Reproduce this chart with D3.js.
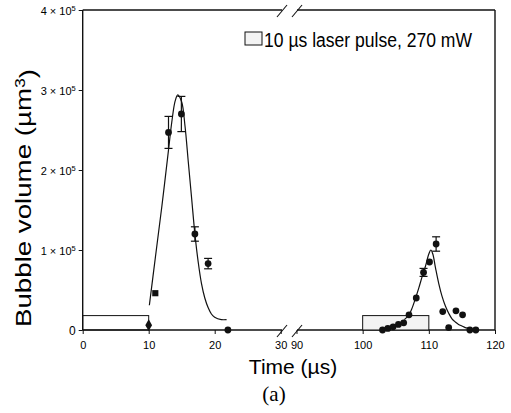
<!DOCTYPE html>
<html><head><meta charset="utf-8">
<script src="https://cdn.jsdelivr.net/npm/d3@7"></script>
<style>
html,body{margin:0;padding:0;background:#fff;}
svg{display:block;font-family:"Liberation Sans",Arial,sans-serif;}
</style></head>
<body><svg id="c" width="511" height="413"></svg>
<script>
// ---- data (volumes in µm³) ----
const leftX   = [10, 11, 13, 14.95, 17, 19, 22];
const leftY   = [0.06e5, 0.46e5, 2.47e5, 2.70e5, 1.20e5, 0.83e5, 0];
const leftErr = [0, 0, 0.20e5, 0.22e5, 0.09e5, 0.065e5, 0];
const leftShape = ["diamond", "square", "circle", "circle", "circle", "circle", "circle"];

const rightX   = [103.0, 103.8, 104.6, 105.4, 106.2, 107.0, 108.1, 109.2, 110.1, 111.1, 112.1, 113.0, 114.1, 115.1, 116.2, 117.1];
const rightY   = [0, 0.02e5, 0.04e5, 0.07e5, 0.09e5, 0.19e5, 0.40e5, 0.72e5, 0.85e5, 1.075e5, 0.23e5, 0.03e5, 0.24e5, 0.19e5, 0, 0];
const rightErr = [0, 0, 0, 0, 0, 0, 0, 0.05e5, 0, 0.09e5, 0, 0, 0, 0, 0, 0];

const fitLeftX = [10.1, 11, 12, 13, 13.5, 14, 14.4, 15, 15.5, 16, 16.5, 17, 17.5, 18, 18.5, 19, 19.5, 20, 21, 21.8];
const fitLeftY = [0.31e5, 0.9e5, 1.55e5, 2.25e5, 2.6e5, 2.86e5, 2.94e5, 2.85e5, 2.55e5, 2.1e5, 1.65e5, 1.2e5, 0.85e5, 0.58e5, 0.4e5, 0.28e5, 0.2e5, 0.16e5, 0.13e5, 0.13e5];
const fitRightX = [106.3, 107, 107.5, 108, 108.5, 109, 109.5, 110, 110.3, 110.6, 111, 111.5, 112, 112.5, 113, 113.5, 114, 114.5, 115, 115.5, 116, 116.5];
const fitRightY = [0.13e5, 0.19e5, 0.28e5, 0.40e5, 0.53e5, 0.67e5, 0.80e5, 0.95e5, 1.0e5, 0.95e5, 0.78e5, 0.58e5, 0.42e5, 0.30e5, 0.21e5, 0.14e5, 0.10e5, 0.07e5, 0.05e5, 0.03e5, 0.02e5, 0.01e5];

// laser pulse boxes [start, end]
const pulses = [[0, 10], [100, 110]];
const pulseHeight = 0.18e5;

const yTicks = [0, 1e5, 2e5, 3e5, 4e5];
const xTicksLeft = [0, 10, 20, 30];
const xTicksRight = [90, 100, 110, 120];

// ---- chart ----
const svg = d3.select("#c");
const x0 = 82.7, xBreakL = 280.7, xBreakR = 296.5, x1 = 495, yTop = 10, yBot = 330;
const xL = d3.scaleLinear().domain([0, 30]).range([x0, xBreakL]);
const xR = d3.scaleLinear().domain([90, 120]).range([xBreakR, x1]);
const xs = v => v <= 30 ? xL(v) : xR(v);
const y = d3.scaleLinear().domain([0, 4e5]).range([yBot, yTop]);

const ink = "#111";

// frame
svg.append("line").attr("x1", x0).attr("x2", x0).attr("y1", yTop).attr("y2", yBot).attr("stroke", ink).attr("stroke-width", 1.4);
svg.append("line").attr("x1", x1).attr("x2", x1).attr("y1", yTop).attr("y2", yBot).attr("stroke", ink).attr("stroke-width", 1.4);
[yTop, yBot].forEach(yy => {
  svg.append("line").attr("x1", x0).attr("x2", 282).attr("y1", yy).attr("y2", yy).attr("stroke", ink).attr("stroke-width", 1.4);
  svg.append("line").attr("x1", 297).attr("x2", x1).attr("y1", yy).attr("y2", yy).attr("stroke", ink).attr("stroke-width", 1.4);
  [282, 297].forEach(cx => {
    svg.append("line").attr("x1", cx - 5).attr("x2", cx + 5).attr("y1", yy + 7).attr("y2", yy - 5).attr("stroke", ink).attr("stroke-width", 1.1);
  });
});

// y axis
const yAx = svg.append("g").attr("transform", `translate(${x0},0)`)
  .call(d3.axisLeft(y).tickValues(yTicks).tickSize(4).tickSizeOuter(0).tickFormat(""));
yAx.select(".domain").remove();
yAx.selectAll("line").attr("stroke", ink);
yAx.selectAll(".tick").each(function(d) {
  const t = d3.select(this).append("text").attr("x", -7).attr("dy", "0.38em")
    .attr("text-anchor", "end").attr("fill", "#000").attr("font-size", 11)
    .attr("font-family", "Liberation Sans, Arial, sans-serif");
  if (d === 0) { t.attr("font-size", 12).text("0"); }
  else {
    t.append("tspan").text(`${d / 1e5} × 10`);
    t.append("tspan").attr("dy", "-0.55em").attr("font-size", 7.5).text("5");
  }
});

// x axes
[[xL, xTicksLeft], [xR, xTicksRight]].forEach(([sc, tv]) => {
  const g = svg.append("g").attr("transform", `translate(0,${yBot})`)
    .call(d3.axisBottom(sc).tickValues(tv).tickSize(4).tickSizeOuter(0));
  g.select(".domain").remove();
  g.selectAll("line").attr("stroke", ink);
  g.selectAll("text").attr("font-size", 11).attr("fill", "#000").attr("dy", "1.05em")
    .attr("font-family", "Liberation Sans, Arial, sans-serif");
});

// pulse boxes
pulses.forEach(([a, b], i) => {
  svg.append("rect").attr("x", xs(a)).attr("y", y(pulseHeight))
    .attr("width", xs(b) - xs(a)).attr("height", y(0) - y(pulseHeight))
    .attr("fill", i === 0 ? "none" : "#f3f3f3").attr("stroke", ink).attr("stroke-width", 1);
});

// fitted curves
const line = d3.line().x(d => xs(d[0])).y(d => y(d[1])).curve(d3.curveCatmullRom.alpha(0.5));
svg.append("path").datum(d3.zip(fitLeftX, fitLeftY)).attr("d", line)
  .attr("fill", "none").attr("stroke", ink).attr("stroke-width", 1.2);
svg.append("path").datum(d3.zip(fitRightX, fitRightY)).attr("d", line)
  .attr("fill", "none").attr("stroke", ink).attr("stroke-width", 1.2);

// error bars and markers
function drawPts(X, Y, E, S) {
  X.forEach((xv, i) => {
    const cx = xs(xv), cy = y(Y[i]);
    if (E[i] > 0) {
      const t = y(Y[i] + E[i]), b = y(Y[i] - E[i]);
      svg.append("line").attr("x1", cx).attr("x2", cx).attr("y1", t).attr("y2", b).attr("stroke", ink).attr("stroke-width", 1.2);
      [t, b].forEach(v => svg.append("line").attr("x1", cx - 4).attr("x2", cx + 4).attr("y1", v).attr("y2", v).attr("stroke", ink).attr("stroke-width", 1.2));
    }
    const sh = S ? S[i] : "circle";
    const sym = sh === "diamond" ? d3.symbolDiamond : sh === "square" ? d3.symbolSquare : d3.symbolCircle;
    const size = sh === "diamond" ? 40 : sh === "square" ? 38 : 36;
    svg.append("path").attr("d", d3.symbol(sym, size)).attr("transform", `translate(${cx},${cy})`).attr("fill", ink);
  });
}
drawPts(leftX, leftY, leftErr, leftShape);
drawPts(rightX, rightY, rightErr, null);

// legend
svg.append("rect").attr("x", 245).attr("y", 32).attr("width", 17).attr("height", 13)
  .attr("fill", "#f3f3f3").attr("stroke", ink).attr("stroke-width", 1);
svg.append("text").attr("x", 264).attr("y", 47).attr("font-size", 20).attr("fill", "#000")
  .attr("textLength", 208).attr("lengthAdjust", "spacingAndGlyphs").text("10 µs laser pulse, 270 mW");

// axis titles
const yl = svg.append("text").attr("transform", "translate(31,198) rotate(-90)").attr("text-anchor", "middle")
  .attr("font-size", 22).attr("fill", "#000").attr("textLength", 258).attr("lengthAdjust", "spacingAndGlyphs");
yl.append("tspan").text("Bubble volume (µm");
yl.append("tspan").attr("dy", "-0.45em").attr("font-size", 14).text("3");
yl.append("tspan").attr("dy", "0.45em").text(")");

svg.append("text").attr("x", 293).attr("y", 374).attr("text-anchor", "middle").attr("font-size", 21).attr("fill", "#000").text("Time (µs)");
svg.append("text").attr("x", 274).attr("y", 401).attr("text-anchor", "middle").attr("font-size", 21)
  .attr("font-family", "Liberation Serif, Times New Roman, serif").attr("fill", "#000").text("(a)");
</script></body></html>
